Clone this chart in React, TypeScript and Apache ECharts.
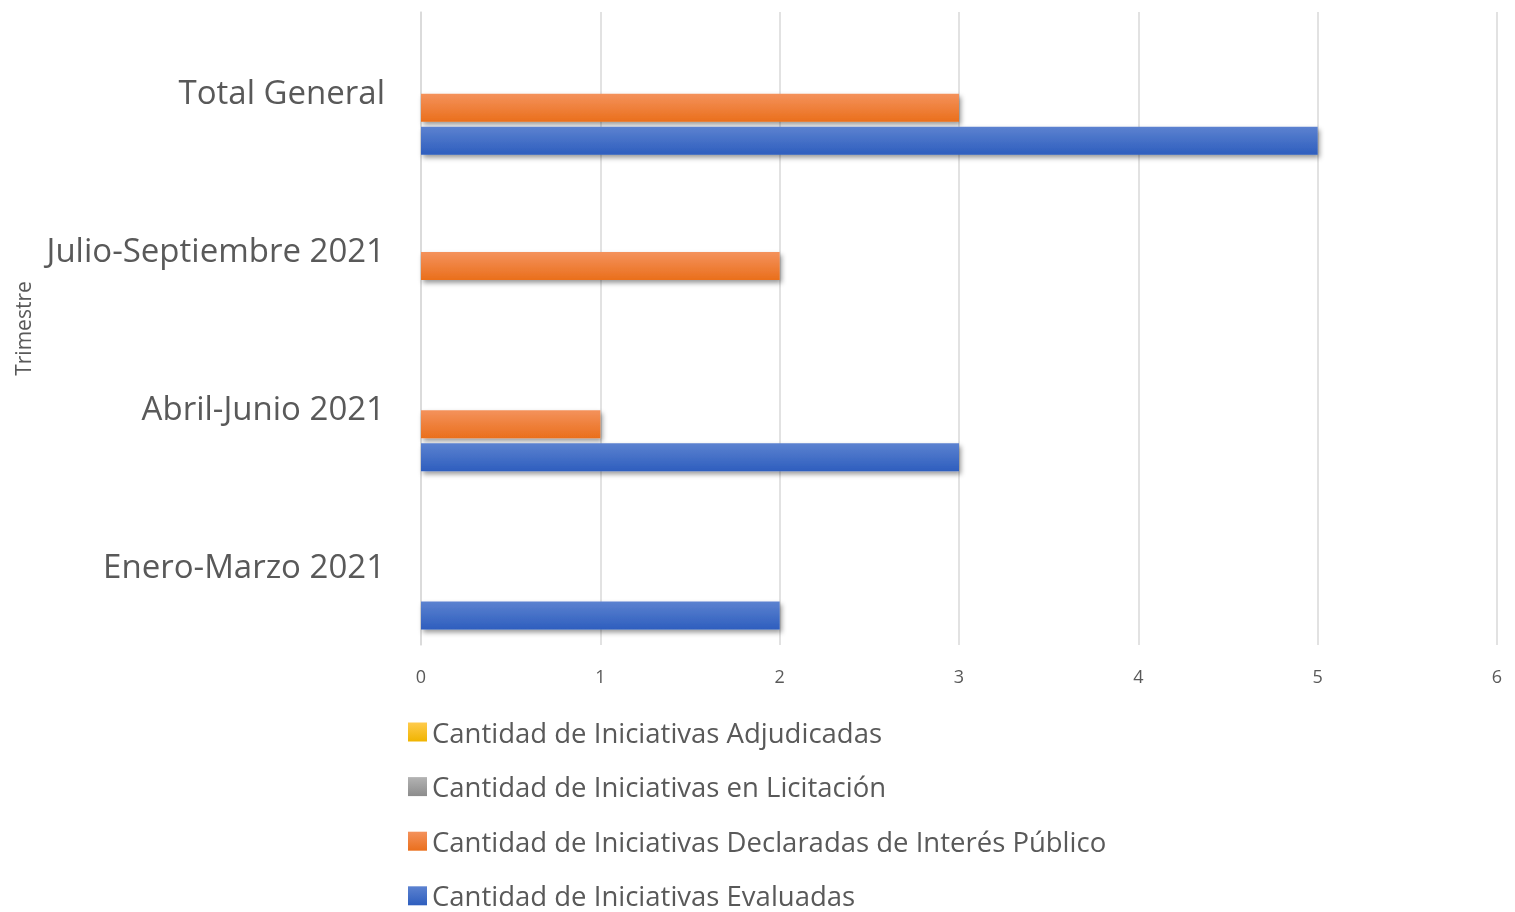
import React, { useEffect, useRef } from "react";
import * as echarts from "echarts";

const categories = ["Enero-Marzo 2021", "Abril-Junio 2021", "Julio-Septiembre 2021", "Total General"];
const seriesNames = [
  "Cantidad de Iniciativas Adjudicadas",
  "Cantidad de Iniciativas en Licitación",
  "Cantidad de Iniciativas Declaradas de Interés Público",
  "Cantidad de Iniciativas Evaluadas",
];
const adjudicadas = [0, 0, 0, 0];
const licitacion = [0, 0, 0, 0];
const declaradas = [0, 1, 2, 3];
const evaluadas = [2, 3, 0, 5];
const xTicks = [0, 1, 2, 3, 4, 5, 6];

const grad = (top: string, bottom: string) =>
  new echarts.graphic.LinearGradient(0, 0, 0, 1, [
    { offset: 0, color: top },
    { offset: 1, color: bottom },
  ]);

export default function App() {
  const ref = useRef<HTMLDivElement>(null);
  useEffect(() => {
    if (!ref.current) return;
    const chart = echarts.init(ref.current, null, { renderer: "svg" });
    const font = "'Open Sans', sans-serif";
    const colors = [
      grad("#FFCB4D", "#F0B400"),
      grad("#B3B3B3", "#8C8C8C"),
      grad("#F4925C", "#EA6F1C"),
      grad("#5C82D0", "#2E5EBE"),
    ];
    const datas = [adjudicadas, licitacion, declaradas, evaluadas];
    chart.setOption({
      animation: false,
      grid: { left: 421, right: 18, top: 12, bottom: 267, containLabel: false },
      legend: {
        orient: "vertical",
        left: 403,
        top: 713,
        height: 200,
        itemWidth: 19,
        itemHeight: 19,
        itemGap: 26.6,
        icon: "rect",
        data: seriesNames,
        textStyle: { fontFamily: font, fontSize: 27.5, color: "#595959", lineHeight: 28 },
      },
      xAxis: {
        type: "value",
        min: xTicks[0],
        max: xTicks[xTicks.length - 1],
        interval: 1,
        axisLine: { show: false },
        axisTick: { show: false },
        splitLine: { lineStyle: { color: "#D9D9D9", width: 1.5 } },
        axisLabel: { fontFamily: font, fontSize: 18, color: "#595959", margin: 22 },
      },
      yAxis: {
        type: "category",
        data: categories,
        name: "Trimestre",
        nameLocation: "middle",
        nameGap: 388,
        nameRotate: 90,
        nameTextStyle: { fontFamily: font, fontSize: 21, color: "#595959" },
        axisLine: { show: true, lineStyle: { color: "#D9D9D9", width: 1.5 } },
        axisTick: { show: false },
        axisLabel: { fontFamily: font, fontSize: 33, color: "#595959", margin: 36 },
      },
      series: seriesNames.map((name, i) => ({
        name,
        type: "bar",
        data: datas[i],
        barWidth: 28,
        barGap: "18%",
        itemStyle: {
          color: colors[i],
          shadowColor: "rgba(0,0,0,0.4)",
          shadowBlur: 5,
          shadowOffsetX: 2,
          shadowOffsetY: 3,
        },
      })),
    });
    return () => chart.dispose();
  }, []);
  return (
    <div
      ref={ref}
      style={{ position: "fixed", left: 0, top: 0, width: 1515, height: 912 }}
    />
  );
}
